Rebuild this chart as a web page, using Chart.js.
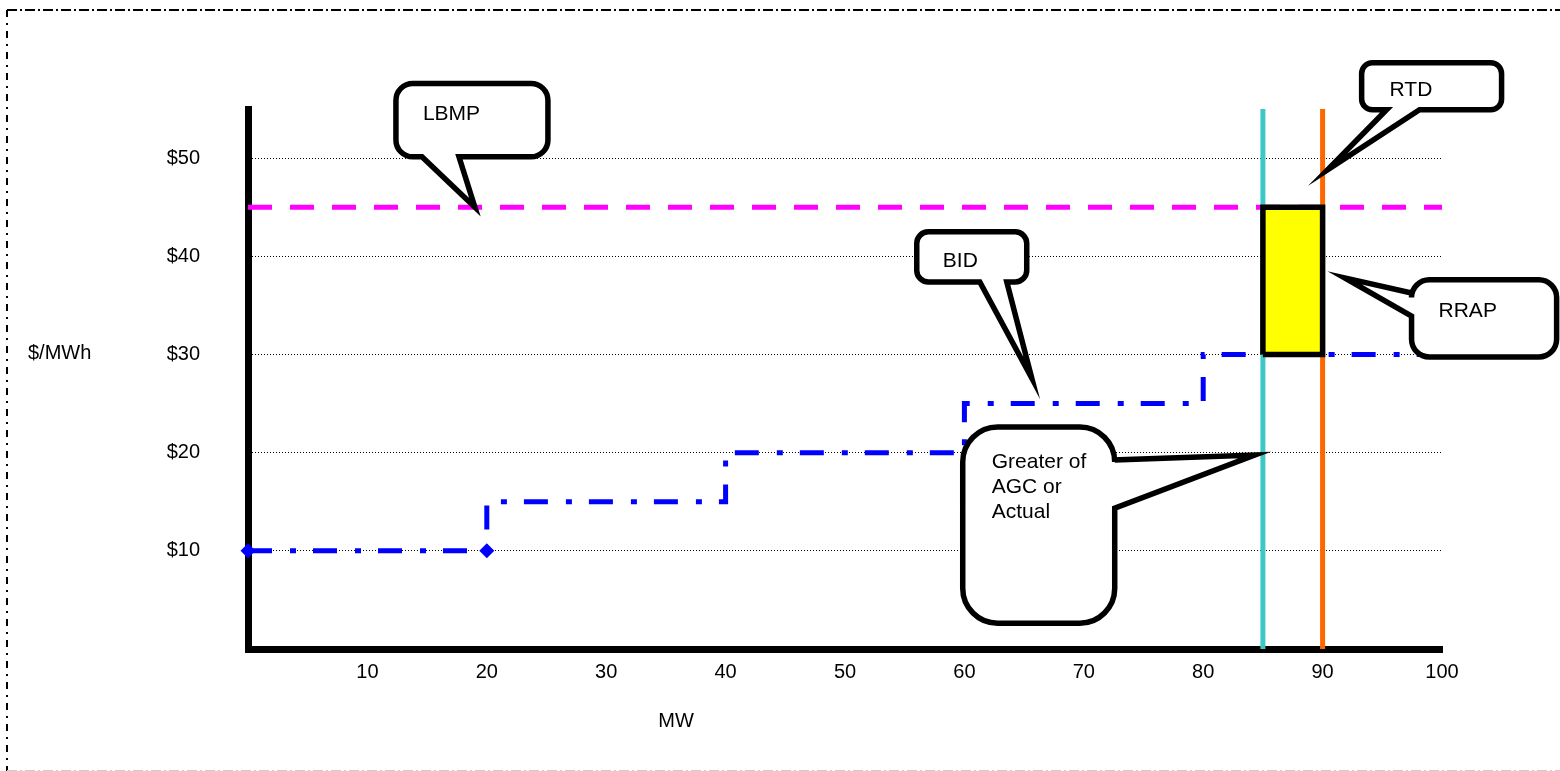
<!DOCTYPE html>
<html>
<head>
<meta charset="utf-8">
<script src="https://cdn.jsdelivr.net/npm/chart.js@4/dist/chart.umd.min.js"></script>
<style>
  html, body { margin: 0; padding: 0; background: #fff; }
  #wrap { width: 1560px; height: 771px; position: relative; }
</style>
</head>
<body>
<div id="wrap"><canvas id="rrapChart"></canvas></div>
<script>
// bid curve, $/MWh against MW (drawn as steps)
var bidMw    = [0, 20, 20, 40, 40, 60, 60, 80, 80, 100];
var bidPrice = [10, 10, 15, 15, 20, 20, 25, 25, 30, 30];
var bidMarks = [7.5, 7.5, 0, 0, 0, 0, 0, 0, 0, 0];

// LBMP
var lbmpMw    = [0, 100];
var lbmpPrice = [45, 45];

// greater of AGC or actual, and RTD (MW)
var agcMw = [85, 85];
var rtdMw = [90, 90];
var markerSpan = [0, 55];

// RRAP area between the two basepoints, bid up to LBMP
var rrapMw    = [85, 85, 90, 90, 85];
var rrapPrice = [30, 45, 45, 30, 30];

// tick labels
var xTickValues = [10, 20, 30, 40, 50, 60, 70, 80, 90, 100];
var yTickValues = [10, 20, 30, 40, 50];

var FONT = '"Liberation Sans", Arial, sans-serif';

// callout boxes, in axis units: box = [left, top, right, bottom]
var callouts = [
  { lines: ['LBMP'], box: [12.39, 57.6, 25.12, 50.13], text: [14.65, 53.9],
    tail: { side: 'bottom', base: [14.57, 17.67], tip: [19.0, 45] } },
  { lines: ['RTD'], box: [93.27, 59.71, 104.99, 54.92], text: [95.61, 56.28],
    tail: { side: 'bottom', base: [95.36, 98.12], tip: [90.42, 48.81] } },
  { lines: ['RRAP'], box: [97.45, 37.6, 109.6, 29.74], text: [99.71, 33.85],
    tail: { side: 'left', base: [36.26, 33.9], tip: [91.85, 37.8] } },
  { lines: ['BID'], box: [56.01, 42.49, 65.22, 37.39], text: [58.19, 38.95],
    tail: { side: 'bottom', base: [61.29, 63.55], tip: [65.64, 27.6] } },
  { lines: ['Greater of', 'AGC or', 'Actual'], box: [59.86, 22.61, 72.59, 2.63], text: [62.29, 18.4],
    tail: { side: 'right', base: [19.25, 14.35], tip: [84.31, 19.76] } }
];

function toPoints(xs, ys) {
  return xs.map(function(x, i) { return { x: x, y: ys[i] }; });
}

function setTicks(values) {
  return function(scale) {
    scale.ticks = values.map(function(v) { return { value: v }; });
  };
}

function calloutPath(ctx, c, xs, ys) {
  var l = xs.getPixelForValue(c.box[0]);
  var t = ys.getPixelForValue(c.box[1]);
  var r = xs.getPixelForValue(c.box[2]);
  var b = ys.getPixelForValue(c.box[3]);
  var rad = Math.min(r - l, b - t) * 0.23;
  var tail = c.tail;
  var tx = xs.getPixelForValue(tail.tip[0]);
  var ty = ys.getPixelForValue(tail.tip[1]);

  ctx.beginPath();
  ctx.moveTo(l + rad, t);
  ctx.lineTo(r - rad, t);
  ctx.arcTo(r, t, r, t + rad, rad);
  if (tail.side === 'right') {
    ctx.lineTo(r, ys.getPixelForValue(tail.base[0]));
    ctx.lineTo(tx, ty);
    ctx.lineTo(r, ys.getPixelForValue(tail.base[1]));
  }
  ctx.lineTo(r, b - rad);
  ctx.arcTo(r, b, r - rad, b, rad);
  if (tail.side === 'bottom') {
    ctx.lineTo(xs.getPixelForValue(tail.base[1]), b);
    ctx.lineTo(tx, ty);
    ctx.lineTo(xs.getPixelForValue(tail.base[0]), b);
  }
  ctx.lineTo(l + rad, b);
  ctx.arcTo(l, b, l, b - rad, rad);
  if (tail.side === 'left') {
    ctx.lineTo(l, ys.getPixelForValue(tail.base[1]));
    ctx.lineTo(tx, ty);
    ctx.lineTo(l, ys.getPixelForValue(tail.base[0]));
  }
  ctx.lineTo(l, t + rad);
  ctx.arcTo(l, t, l + rad, t, rad);
  ctx.closePath();
}

var calloutPlugin = {
  id: 'callouts',
  afterDatasetsDraw: function(chart) {
    var ctx = chart.ctx;
    var xs = chart.scales.x, ys = chart.scales.y;
    ctx.save();
    callouts.forEach(function(c) {
      calloutPath(ctx, c, xs, ys);
      ctx.fillStyle = '#fff';
      ctx.fill();
      ctx.lineWidth = 5.5;
      ctx.lineJoin = 'miter';
      ctx.strokeStyle = '#000';
      ctx.stroke();

      ctx.fillStyle = '#000';
      ctx.font = '21px ' + FONT;
      ctx.textAlign = 'left';
      ctx.textBaseline = 'alphabetic';
      var x = xs.getPixelForValue(c.text[0]);
      var y = ys.getPixelForValue(c.text[1]);
      c.lines.forEach(function(line, i) {
        ctx.fillText(line, x, y + i * 25);
      });
    });
    ctx.restore();
  }
};

var framePlugin = {
  id: 'frame',
  afterDraw: function(chart) {
    var ctx = chart.ctx;
    var area = chart.chartArea;
    ctx.save();
    // axis titles
    ctx.fillStyle = '#000';
    ctx.font = '20px ' + FONT;
    ctx.textBaseline = 'alphabetic';
    ctx.textAlign = 'left';
    ctx.fillText('$/MWh', 28, 359);
    ctx.textAlign = 'center';
    ctx.fillText('MW', area.left + 428, 727);

    // dash-dot outline round the figure
    ctx.strokeStyle = '#000';
    ctx.lineWidth = 2;
    ctx.setLineDash([10, 3, 2, 3]);
    ctx.beginPath();
    ctx.moveTo(7, 10);
    ctx.lineTo(1560, 10);
    ctx.stroke();
    ctx.setLineDash([7, 6, 2, 6]);
    ctx.beginPath();
    ctx.moveTo(7, 10);
    ctx.lineTo(7, 771);
    ctx.stroke();
    ctx.strokeStyle = '#ccc';
    ctx.lineWidth = 1;
    ctx.setLineDash([10, 3, 2, 3]);
    ctx.beginPath();
    ctx.moveTo(7, 770.5);
    ctx.lineTo(1560, 770.5);
    ctx.stroke();
    ctx.restore();
  }
};

var tickFont = { family: FONT, size: 20 };

new Chart(document.getElementById('rrapChart').getContext('2d'), {
  type: 'line',
  data: {
    datasets: [
      {
        label: 'RRAP',
        data: toPoints(rrapMw, rrapPrice),
        borderColor: '#000',
        backgroundColor: '#ffff00',
        borderWidth: 5.5,
        borderJoinStyle: 'miter',
        fill: 'shape',
        pointRadius: 0
      },
      {
        label: 'Greater of AGC or Actual',
        data: toPoints(agcMw, markerSpan),
        borderColor: '#3cc8c8',
        borderWidth: 5,
        pointRadius: 0,
        fill: false
      },
      {
        label: 'RTD',
        data: toPoints(rtdMw, markerSpan),
        borderColor: '#ff6600',
        borderWidth: 5,
        pointRadius: 0,
        fill: false
      },
      {
        label: 'LBMP',
        data: toPoints(lbmpMw, lbmpPrice),
        borderColor: '#ff00ff',
        borderWidth: 5,
        borderDash: [24, 18],
        pointRadius: 0,
        fill: false
      },
      {
        label: 'BID',
        data: toPoints(bidMw, bidPrice),
        borderColor: '#0000ff',
        borderWidth: 5,
        borderDash: [24, 18, 6, 17],
        borderCapStyle: 'butt',
        borderJoinStyle: 'miter',
        pointStyle: 'rectRot',
        pointRadius: bidMarks,
        pointBackgroundColor: '#0000ff',
        pointBorderWidth: 0,
        clip: false,
        fill: false
      }
    ]
  },
  options: {
    responsive: true,
    maintainAspectRatio: false,
    animation: false,
    events: [],
    layout: { padding: { top: 109, right: 118, left: 0, bottom: 0 } },
    plugins: {
      legend: { display: false },
      tooltip: { enabled: false }
    },
    scales: {
      x: {
        type: 'linear',
        min: 0,
        max: 100,
        afterBuildTicks: setTicks(xTickValues),
        afterFit: function(scale) { scale.height = 122; },
        grid: { display: false, drawTicks: false },
        border: { display: true, color: '#000', width: 7 },
        ticks: { color: '#000', font: tickFont, padding: 11, maxRotation: 0, autoSkip: false }
      },
      y: {
        type: 'linear',
        min: 0,
        max: 55,
        afterBuildTicks: setTicks(yTickValues),
        afterFit: function(scale) { scale.width = 248; },
        grid: { color: '#000', lineWidth: 1, drawTicks: false },
        border: { display: true, color: '#000', width: 7, dash: [1, 2] },
        ticks: {
          color: '#000',
          font: tickFont,
          padding: 48,
          autoSkip: false,
          callback: function(value) { return '$' + value; }
        }
      }
    }
  },
  plugins: [calloutPlugin, framePlugin]
});
</script>
</body>
</html>
